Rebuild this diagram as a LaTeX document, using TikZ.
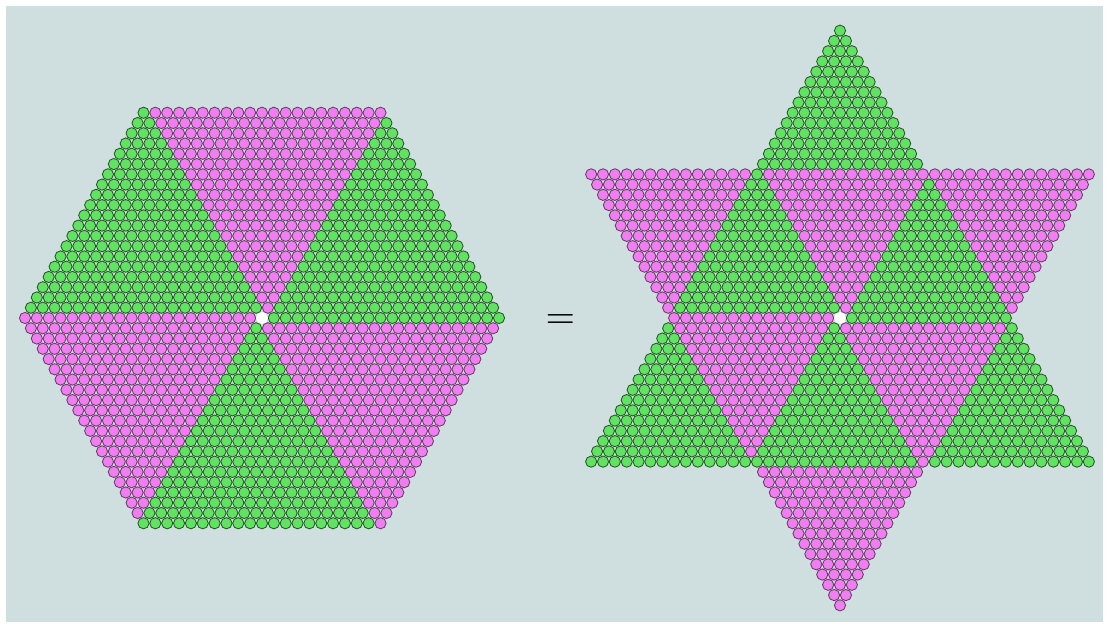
\documentclass[tikz,border=0pt]{standalone}
\definecolor{bg}{RGB}{207,222,223}
\definecolor{pk}{RGB}{240,126,240}
\definecolor{gn}{RGB}{98,226,98}
\definecolor{pkline}{RGB}{105,60,105}
\definecolor{gnline}{RGB}{35,90,35}
\tikzset{
  greenball/.style={fill=gn,draw=gnline,line width=0.85pt},
  pinkball/.style={fill=pk,draw=pkline,line width=0.85pt},
  centerball/.style={fill=white,draw=white,line width=0.5pt}
}
\begin{document}
\begin{tikzpicture}[x=1pt,y=-1pt]
\useasboundingbox (0,0) rectangle (1108,628);
\fill[white] (0,0) rectangle (1108,628);
\fill[bg] (6,6) rectangle (1103,622);
\def\dd{11.85}
\def\hh{10.262}
\def\rr{5.6}
% ---------- left hexagon (radius 20) ----------
\foreach \s in {0,...,5}{
  \pgfmathsetmacro{\ux}{\dd*cos(60*\s)}
  \pgfmathsetmacro{\uy}{-\dd*sin(60*\s)}
  \pgfmathsetmacro{\vx}{\dd*cos(60*\s+60)}
  \pgfmathsetmacro{\vy}{-\dd*sin(60*\s+60)}
  \pgfmathtruncatemacro{\parity}{mod(\s,2)}
  \ifnum\parity=0 \def\sty{greenball}\else\def\sty{pinkball}\fi
  \foreach \a in {1,...,20}{
    \pgfmathtruncatemacro{\bm}{20-\a}
    \foreach \b in {0,...,\bm}{
      \pgfmathsetmacro{\px}{262+\a*(\ux)+\b*(\vx)}
      \pgfmathsetmacro{\py}{318+\a*(\uy)+\b*(\vy)}
      \path[\sty] (\px,\py) circle[radius=\rr];
    }
  }
}
\path[centerball] (262,318) circle[radius=\rr];
% ---------- right hexagram: inner hexagon (radius 14) ----------
\foreach \s in {0,...,5}{
  \pgfmathsetmacro{\ux}{\dd*cos(60*\s)}
  \pgfmathsetmacro{\uy}{-\dd*sin(60*\s)}
  \pgfmathsetmacro{\vx}{\dd*cos(60*\s+60)}
  \pgfmathsetmacro{\vy}{-\dd*sin(60*\s+60)}
  \pgfmathtruncatemacro{\parity}{mod(\s,2)}
  \ifnum\parity=0 \def\sty{greenball}\else\def\sty{pinkball}\fi
  \foreach \a in {1,...,14}{
    \pgfmathtruncatemacro{\bm}{14-\a}
    \foreach \b in {0,...,\bm}{
      \pgfmathsetmacro{\px}{840+\a*(\ux)+\b*(\vx)}
      \pgfmathsetmacro{\py}{318+\a*(\uy)+\b*(\vy)}
      \path[\sty] (\px,\py) circle[radius=\rr];
    }
  }
}
% ---------- right hexagram: six outer points ----------
\foreach \k in {0,...,5}{
  \pgfmathsetmacro{\cs}{cos(60*\k)}
  \pgfmathsetmacro{\sn}{sin(60*\k)}
  \pgfmathtruncatemacro{\parity}{mod(\k,2)}
  \ifnum\parity=0 \def\sty{greenball}\else\def\sty{pinkball}\fi
  \foreach \n in {0,...,13}{
    \foreach \t in {0,...,\n}{
      \pgfmathsetmacro{\X}{\dd*(\t-\n/2)}
      \pgfmathsetmacro{\Y}{\hh*(28-\n)}
      \pgfmathsetmacro{\px}{840+(\X)*(\cs)-(\Y)*(\sn)}
      \pgfmathsetmacro{\py}{318-(\X)*(\sn)-(\Y)*(\cs)}
      \path[\sty] (\px,\py) circle[radius=\rr];
    }
  }
}
\path[centerball] (840,318) circle[radius=\rr];
% ---------- equals sign ----------
\node[scale=3.8,inner sep=0pt] (eq) at (560.5,321.5) {$=$};
\end{tikzpicture}
\end{document}
